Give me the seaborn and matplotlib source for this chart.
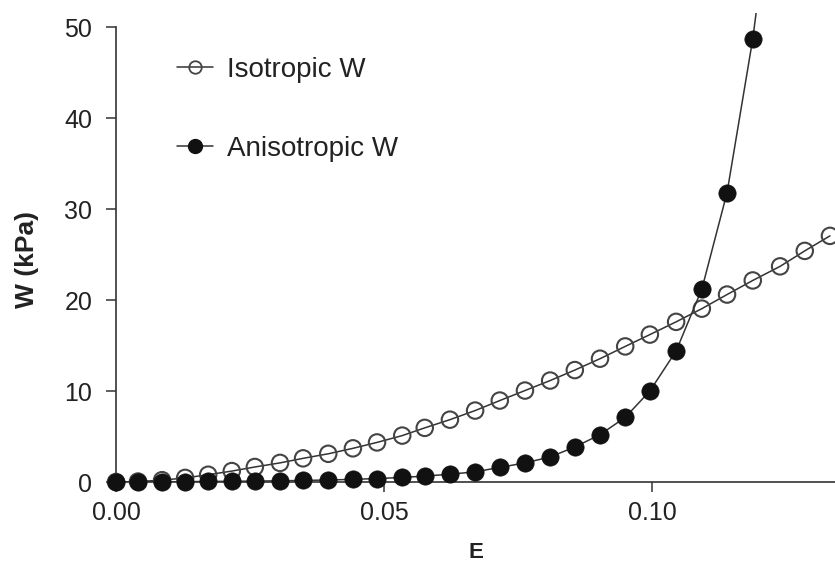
import matplotlib
matplotlib.use("Agg")
import matplotlib.pyplot as plt
from matplotlib.lines import Line2D
import seaborn as sns
import pandas as pd

# Strain E (shared grid)
E = [0.0, 0.0041, 0.0086, 0.0129, 0.0172, 0.0216, 0.0259, 0.0306, 0.0349, 0.0396,
     0.0442, 0.0487, 0.0534, 0.0576, 0.0623, 0.0670, 0.0716, 0.0763, 0.0810, 0.0856,
     0.0903, 0.0950, 0.0996, 0.1045, 0.1093, 0.1140, 0.1188, 0.1239, 0.1285, 0.1332]

# Isotropic W (kPa)
W_iso = [0.0, 0.05, 0.2, 0.45, 0.8, 1.2, 1.65, 2.1, 2.6, 3.1,
         3.7, 4.35, 5.1, 5.95, 6.85, 7.85, 8.95, 10.05, 11.15, 12.3,
         13.55, 14.9, 16.2, 17.6, 19.05, 20.6, 22.15, 23.7, 25.4, 27.05]

# Anisotropic W (kPa) -- last value lies above the plotted range
W_aniso = [0.0, 0.0, 0.02, 0.04, 0.06, 0.08, 0.1, 0.13, 0.17, 0.22,
           0.29, 0.38, 0.5, 0.65, 0.85, 1.12, 1.6, 2.1, 2.75, 3.85,
           5.2, 7.1, 10.0, 14.4, 21.2, 31.8, 48.7, 72.0]

labels = ["Isotropic W", "Anisotropic W"]
x_ticks = [0.00, 0.05, 0.10]
y_ticks = [0, 10, 20, 30, 40, 50]

df_iso = pd.DataFrame({"E": E, "W": W_iso})
df_an = pd.DataFrame({"E": E[:len(W_aniso)], "W": W_aniso})

sns.set_style("ticks")
plt.rcParams["font.family"] = ["Liberation Sans", "DejaVu Sans"]

fig = plt.figure(figsize=(8.35, 5.67), dpi=100)
ax = fig.add_axes([116 / 835, 1 - 482 / 567, 1 - 116 / 835, (482 - 13.4) / 567])

line_col = "#333333"
sns.lineplot(data=df_iso, x="E", y="W", ax=ax, color=line_col, lw=1.1, zorder=2)
sns.scatterplot(data=df_iso, x="E", y="W", ax=ax, s=140, marker="o",
                facecolor="none", edgecolor="#444444", linewidth=1.5,
                zorder=3, clip_on=False)
sns.lineplot(data=df_an, x="E", y="W", ax=ax, color=line_col, lw=1.1, zorder=4)
sns.scatterplot(data=df_an, x="E", y="W", ax=ax, s=155, marker="o",
                color="#111111", edgecolor="#111111", linewidth=0.5,
                zorder=5, clip_on=False)

ax.set_xlim(0, (835 - 116) / 5360)
ax.set_ylim(0, 51.5)
ax.set_xticks(x_ticks)
ax.set_xticklabels([f"{v:.2f}" for v in x_ticks])
ax.set_yticks(y_ticks)
ax.spines["left"].set_bounds(0, 50)
ax.spines["top"].set_visible(False)
ax.spines["right"].set_visible(False)
for s in ("left", "bottom"):
    ax.spines[s].set_color("#333333")
    ax.spines[s].set_linewidth(1.2)
ax.tick_params(axis="both", length=7, width=1.1, color="#333333",
               labelsize=18, labelcolor="#222222")
ax.tick_params(axis="y", pad=10)
ax.tick_params(axis="x", pad=7)

ax.set_xlabel("E", fontsize=16, fontweight="bold", color="#222222", labelpad=12)
ax.set_ylabel("W (kPa)", fontsize=19, fontweight="bold", color="#222222")
ax.yaxis.set_label_coords(-0.107, 0.474)

handles = [
    Line2D([], [], color=line_col, lw=1.1, marker="o", markersize=9,
           markerfacecolor="none", markeredgecolor="#444444", markeredgewidth=1.3),
    Line2D([], [], color=line_col, lw=1.1, marker="o", markersize=10,
           markerfacecolor="#111111", markeredgecolor="#111111"),
]
ax.legend(handles, labels, loc="upper left", bbox_to_anchor=(0.050, 0.960),
          frameon=False, fontsize=20, handlelength=1.3, handletextpad=0.5,
          labelspacing=1.9, labelcolor="#222222")

fig.savefig("out.png", dpi=100)
